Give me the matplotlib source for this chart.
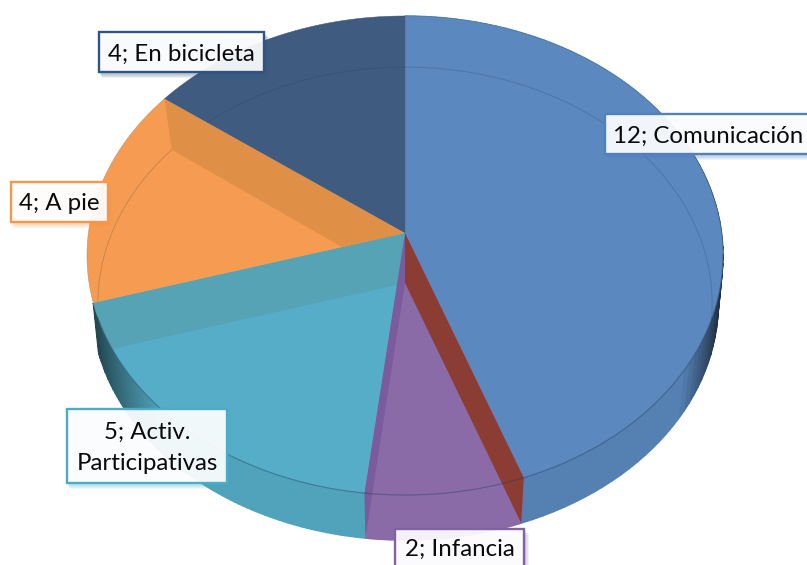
import matplotlib
matplotlib.use('Agg')
import matplotlib.pyplot as plt
from matplotlib.patches import Polygon, Rectangle
import matplotlib.colors as mcolors
import numpy as np

# data
labels = ['Comunicación', 'Infancia', 'Activ.\nParticipativas', 'A pie', 'En bicicleta']
values = [12, 2, 5, 4, 4]

# colours, same order as the data
top_colors = ['#5b88bf', '#8a6ba8', '#55adc8', '#f59c52', '#3f5c80']
side_colors = ['#5480b2', '#8767a6', '#50a3bb', '#e08f47', '#3f5c80']
wall_colors = ['#8b3c33', '#7b5a9e', '#55a3b5', '#e08f47', '#3f5c80']
border_colors = ['#4f81bd', '#8064a2', '#4bacc6', '#f79646', '#2f5582']

# label boxes: x0, y0, x1, y1 in pixels
boxes = [(605, 114, 815, 154), (395, 529, 524, 575), (67, 409, 227, 483),
         (11, 182, 108, 222), (99, 32, 264, 72)]

plt.rcParams['font.family'] = ['Lato', 'DejaVu Sans']

fig, ax = plt.subplots(figsize=(8.07, 5.65), dpi=100)
fig.subplots_adjust(0, 0, 1, 1)
ax.set_xlim(0, 807)
ax.set_ylim(565, 0)
ax.axis('off')


# circle seen in perspective, theta clockwise from 12 o'clock
def rim(theta, cy, s, r=316.6, p=0.094):
    t = np.radians(theta)
    w = 1 + p * np.cos(t)
    return np.column_stack([405 + r * np.sin(t) / w, cy - s * np.cos(t) / w])


def top_rim(theta):
    return rim(np.atleast_1d(theta), 233, 237.4)


def low_rim(theta):
    return rim(np.atleast_1d(theta), 283, 234.7, r=312, p=0.0868)


def back_rim(theta):
    return rim(np.atleast_1d(theta), 283, 234.7, r=306, p=0.0868)


apex_top = np.array([[405, 233]])
apex_low = np.array([[405, 283]])
edges = np.cumsum([0] + values) / sum(values) * 360

# outer side, darker towards the left and right ends
# only the first three slices reach the front
for i in range(3):
    th = np.linspace(edges[i], edges[i + 1], 80)
    base = np.array(mcolors.to_rgb(side_colors[i]))
    start = 0.84 if i == 0 else 0.72
    for t0, t1 in zip(th[:-1], th[1:]):
        dark = np.clip((abs(np.sin(np.radians(t0))) - start) / (0.98 - start), 0, 1) * 0.62
        col = base * (1 - dark)
        pts = np.vstack([top_rim([t0, t1]), low_rim([t1, t0])])
        ax.add_patch(Polygon(pts, facecolor=col, edgecolor=col, lw=1, zorder=1))

# top surface
sectors = []
for i in range(len(values)):
    th = np.linspace(edges[i], edges[i + 1], 120)
    poly = Polygon(np.vstack([apex_top, top_rim(th)]), facecolor=top_colors[i],
                   edgecolor=top_colors[i], lw=0.3, zorder=2)
    ax.add_patch(poly)
    sectors.append(poly)

# the far rim of the floor, seen through the top
for i in [0, 3, 4]:
    th = np.linspace(edges[i] - 60, edges[i + 1] + 60, 200)
    pts = back_rim(th)
    line, = ax.plot(pts[:, 0], pts[:, 1], color='#1c2f48', alpha=0.2, lw=0.7, zorder=3)
    line.set_clip_path(sectors[i])

outline = Polygon(top_rim(np.linspace(0, 360, 361)), transform=ax.transData)

# floor of the small slice
th = np.linspace(edges[1], edges[2], 60)
ax.add_patch(Polygon(np.vstack([apex_low, low_rim(th)]), facecolor=top_colors[1],
                     edgecolor='none', zorder=4))

# cut faces of the slices
wall = Polygon(np.vstack([apex_top, top_rim(edges[3]), low_rim(edges[3]), apex_low]),
               facecolor=wall_colors[2], edgecolor='none', zorder=4)
ax.add_patch(wall)
wall.set_clip_path(outline)
wall = Polygon(np.vstack([apex_top, top_rim(edges[4]), back_rim(edges[4]), apex_low]),
               facecolor=wall_colors[3], edgecolor='none', zorder=4)
ax.add_patch(wall)
wall.set_clip_path(sectors[3])
ax.add_patch(Polygon(np.vstack([apex_top, top_rim(edges[2]), low_rim(edges[2]), apex_low]),
                     facecolor=wall_colors[1], edgecolor='none', zorder=5))
ax.add_patch(Polygon(np.vstack([apex_top, top_rim(edges[1]), low_rim(edges[1]), apex_low]),
                     facecolor=wall_colors[0], edgecolor='none', zorder=5))

# front rim line and outer edge
th = np.linspace(95, 250, 200)
pts = top_rim(th)
ax.plot(pts[:, 0], pts[:, 1], color='#24405f', alpha=0.35, lw=0.9, zorder=6)
th = np.linspace(0, 360, 361)
pts = top_rim(th)
ax.plot(pts[:, 0], pts[:, 1], color='#24405f', alpha=0.15, lw=0.5, zorder=6)

# data labels
for value, name, box, col in zip(values, labels, boxes, border_colors):
    x0, y0, x1, y1 = box
    for k in range(1, 5):
        ax.add_patch(Rectangle((x0 - 1 + k, y0 + k + 1), x1 - x0 + 2, y1 - y0 + 1,
                               facecolor=col, edgecolor='none', alpha=0.09, zorder=7))
    ax.add_patch(Rectangle((x0, y0), x1 - x0, y1 - y0, facecolor='white', alpha=0.92,
                           edgecolor='none', zorder=8))
    ax.add_patch(Rectangle((x0, y0), x1 - x0, y1 - y0, facecolor='none', edgecolor=col,
                           lw=1.7, zorder=9))
    cx = (x0 + x1) / 2
    cy = (y0 + y1) / 2 + 2
    if name == 'Comunicación':
        cx = 708
    if name == 'Infancia':
        cy = 549
    ax.text(cx, cy, f'{value}; {name}', fontsize=17.3, ha='center', va='center',
            color='#0a0a0a', linespacing=1.55, zorder=10)

fig.savefig('out.png', dpi=100, facecolor='white')
